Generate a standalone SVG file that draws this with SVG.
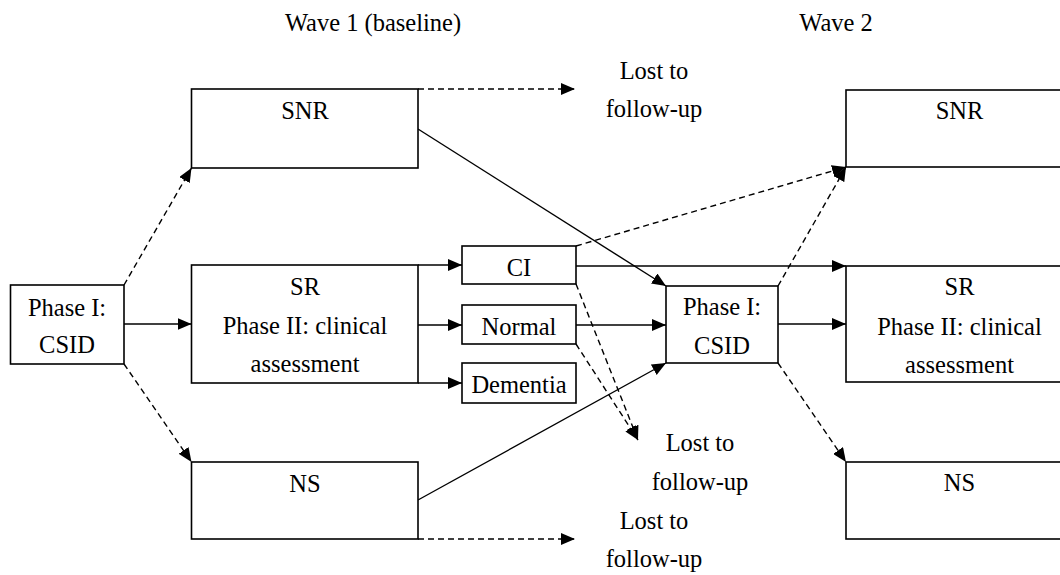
<svg xmlns="http://www.w3.org/2000/svg" width="1060" height="575" viewBox="0 0 1060 575">
  <style>
    text { font-family: "Liberation Serif", "Times New Roman", serif; font-size: 24.5px; fill: #000; text-anchor: middle; }
    .box { fill: #fff; stroke: #000; stroke-width: 1.6; }
    .ln { fill: none; stroke: #000; stroke-width: 1.4; }
    .dash { stroke-dasharray: 6 4; }
  </style>
  <defs>
    <marker id="ah" markerUnits="userSpaceOnUse" markerWidth="14" markerHeight="12" refX="14" refY="6" orient="auto">
      <path d="M0,0 L14,6 L0,12 Z" fill="#000" stroke="none"/>
    </marker>
  </defs>
  <rect width="1060" height="575" fill="#fff"/>

  <g id="headers">
    <text x="373" y="31">Wave 1 (baseline)</text>
    <text x="836" y="31">Wave 2</text>
  </g>

  <g id="connectors">
    <line class="ln" x1="124" y1="324" x2="191.5" y2="324" marker-end="url(#ah)"/>
    <line class="ln" x1="418" y1="265" x2="462" y2="265" marker-end="url(#ah)"/>
    <line class="ln" x1="418" y1="325" x2="462" y2="325" marker-end="url(#ah)"/>
    <line class="ln" x1="418" y1="383" x2="462" y2="383" marker-end="url(#ah)"/>
    <line class="ln" x1="418" y1="129" x2="666" y2="286" marker-end="url(#ah)"/>
    <line class="ln" x1="418" y1="500" x2="666" y2="363" marker-end="url(#ah)"/>
    <line class="ln" x1="576" y1="325" x2="666" y2="325" marker-end="url(#ah)"/>
    <line class="ln" x1="576" y1="266" x2="846" y2="266" marker-end="url(#ah)"/>
    <line class="ln" x1="778" y1="324" x2="846" y2="324" marker-end="url(#ah)"/>

    <line class="ln dash" x1="124" y1="285" x2="191.5" y2="168" marker-end="url(#ah)"/>
    <line class="ln dash" x1="124" y1="364" x2="191.5" y2="462" marker-end="url(#ah)"/>
    <line class="ln dash" x1="418" y1="89" x2="575" y2="89" marker-end="url(#ah)"/>
    <line class="ln dash" x1="418" y1="539" x2="575" y2="539" marker-end="url(#ah)"/>
    <line class="ln dash" x1="576" y1="246" x2="846" y2="167" marker-end="url(#ah)"/>
    <line class="ln dash" x1="778" y1="286" x2="846" y2="167" marker-end="url(#ah)"/>
    <line class="ln dash" x1="778" y1="363" x2="846" y2="462" marker-end="url(#ah)"/>
    <line class="ln dash" x1="576" y1="284" x2="638" y2="440" marker-end="url(#ah)"/>
    <line class="ln dash" x1="576" y1="344" x2="638" y2="440" marker-end="url(#ah)"/>
  </g>

  <g id="csid1">
    <rect class="box" x="10.5" y="285" width="113.5" height="79"/>
    <text x="67" y="316">Phase I:</text>
    <text x="67" y="353">CSID</text>
  </g>
  <g id="snr1">
    <rect class="box" x="191.5" y="89" width="226.5" height="79"/>
    <text x="305" y="119">SNR</text>
  </g>
  <g id="sr1">
    <rect class="box" x="191.5" y="265" width="226.5" height="118"/>
    <text x="305" y="295">SR</text>
    <text x="305" y="334">Phase II: clinical</text>
    <text x="305" y="372">assessment</text>
  </g>
  <g id="ns1">
    <rect class="box" x="191.5" y="462" width="226.5" height="77"/>
    <text x="305" y="492">NS</text>
  </g>
  <g id="ci">
    <rect class="box" x="462" y="246" width="114" height="38"/>
    <text x="519" y="276">CI</text>
  </g>
  <g id="normal">
    <rect class="box" x="462" y="305" width="114" height="39"/>
    <text x="519" y="335">Normal</text>
  </g>
  <g id="dementia">
    <rect class="box" x="462" y="363" width="114" height="40"/>
    <text x="519" y="393">Dementia</text>
  </g>
  <g id="csid2">
    <rect class="box" x="666" y="286" width="112" height="77"/>
    <text x="722" y="315">Phase I:</text>
    <text x="722" y="354">CSID</text>
  </g>
  <g id="snr2">
    <rect class="box" x="846" y="90" width="230" height="77"/>
    <text x="959.5" y="119">SNR</text>
  </g>
  <g id="sr2">
    <rect class="box" x="846" y="266" width="230" height="116"/>
    <text x="959.5" y="295">SR</text>
    <text x="959.5" y="335">Phase II: clinical</text>
    <text x="959.5" y="373">assessment</text>
  </g>
  <g id="ns2">
    <rect class="box" x="846" y="462" width="230" height="77"/>
    <text x="959.5" y="491">NS</text>
  </g>

  <g id="lost-top">
    <text x="654" y="79">Lost to</text>
    <text x="654" y="117">follow-up</text>
  </g>
  <g id="lost-mid">
    <text x="700" y="451">Lost to</text>
    <text x="700" y="490">follow-up</text>
  </g>
  <g id="lost-bottom">
    <text x="654" y="529">Lost to</text>
    <text x="654" y="567">follow-up</text>
  </g>
</svg>
